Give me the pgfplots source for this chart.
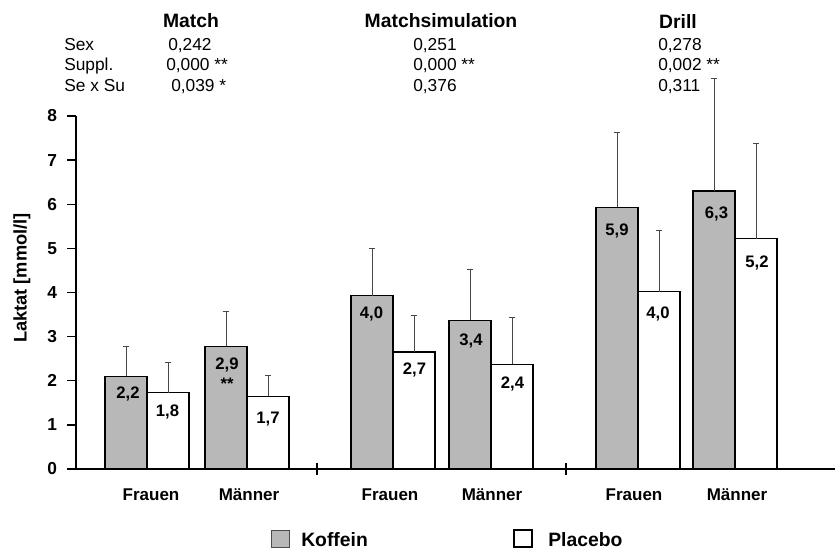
\documentclass[border=0pt]{standalone}
\usepackage{pgfplots}
\pgfplotsset{compat=1.18}
\usepackage{fontspec}
\setmainfont{Liberation Sans}
\definecolor{koff}{gray}{0.72}
\definecolor{errc}{gray}{0.28}
\begin{document}
\begin{tikzpicture}
\begin{axis}[
  at={(57pt,-351.75pt)}, anchor=south west,
  scale only axis, width=569.25pt, height=264.75pt,
  xmin=76, xmax=835, ymin=0, ymax=8,
  axis x line=bottom, axis y line=left,
  axis line style={-, line width=1.1pt, black},
  xtick=\empty, ytick={0,1,2,3,4,5,6,7,8},
  tick align=outside, major tick length=6.75pt,
  tick style={line width=1pt, black},
  yticklabel style={font=\fontsize{13}{13}\selectfont\bfseries, xshift=-4pt},
  /pgf/number format/assume math mode=true,
  ybar, bar width=42, clip=false,
]
\addplot[fill=koff, draw=black, line width=0.9pt, bar shift=0pt,
  error bars/.cd, y dir=plus, y explicit,
  error bar style={line width=0.7pt, errc},
  error mark options={rotate=90, mark size=2.6pt, line width=0.7pt, errc}]
  coordinates {
  (126,2.10) +- (0,0.68)
  (226,2.78) +- (0,0.78)
  (372,3.93) +- (0,1.06)
  (470,3.37) +- (0,1.15)
  (617,5.93) +- (0,1.70)
  (714,6.30) +- (0,2.54)
  };
\addplot[fill=white, draw=black, line width=0.9pt, bar shift=0pt,
  error bars/.cd, y dir=plus, y explicit,
  error bar style={line width=0.7pt, errc},
  error mark options={rotate=90, mark size=2.6pt, line width=0.7pt, errc}]
  coordinates {
  (168,1.73) +- (0,0.69)
  (268,1.65) +- (0,0.47)
  (414,2.65) +- (0,0.84)
  (512,2.37) +- (0,1.06)
  (659,4.02) +- (0,1.39)
  (756,5.22) +- (0,2.15)
  };
\draw[line width=1pt] (axis cs:317,-0.14) -- (axis cs:317,0.13);
\draw[line width=1pt] (axis cs:566,-0.14) -- (axis cs:566,0.13);
\end{axis}
\begin{scope}[x=0.75pt,y=-0.75pt]
  % titles
  \begin{scope}[font=\fontsize{14.5}{14.5}\selectfont\bfseries]
    \node at (191,21) {Match};
    \node at (441,21) {Matchsimulation};
    \node at (678,21) {Drill};
  \end{scope}
  % statistics
  \begin{scope}[font=\fontsize{13}{13}\selectfont, inner sep=0pt]
    \node[anchor=base west] at (64,50) {Sex};
    \node[anchor=base west] at (64,70.5) {Suppl.};
    \node[anchor=base west] at (64,91) {Se x Su};
    \node[anchor=base west] at (168,50) {0,242};
    \node[anchor=base west] at (166,70.5) {0,000 **};
    \node[anchor=base west] at (171,91) {0,039 *};
    \node[anchor=base west] at (413,50) {0,251};
    \node[anchor=base west] at (413,70.5) {0,000 **};
    \node[anchor=base west] at (413,91) {0,376};
    \node[anchor=base west] at (658,50) {0,278};
    \node[anchor=base west] at (658,70.5) {0,002 **};
    \node[anchor=base west] at (658,91) {0,311};
  \end{scope}
  % y label
  \node[rotate=90, font=\fontsize{13.7}{13.7}\selectfont\bfseries] at (22,278) {Laktat [mmol/l]};
  % value labels
  \begin{scope}[font=\fontsize{12.5}{12.5}\selectfont\bfseries]
    \node[anchor=base] at (128,398.5) {2,2};
    \node[anchor=base] at (167.5,416.5) {1,8};
    \node[anchor=base] at (227,369) {2,9};
    \node[anchor=base] at (227,389) {**};
    \node[anchor=base] at (268,423.5) {1,7};
    \node[anchor=base] at (371.5,318.5) {4,0};
    \node[anchor=base] at (414.5,374.5) {2,7};
    \node[anchor=base] at (471,345) {3,4};
    \node[anchor=base] at (512.5,388.5) {2,4};
    \node[anchor=base] at (617,235) {5,9};
    \node[anchor=base] at (658,318.5) {4,0};
    \node[anchor=base] at (716.5,218.5) {6,3};
    \node[anchor=base] at (757,267) {5,2};
  \end{scope}
  % category labels
  \begin{scope}[font=\fontsize{12.75}{12.75}\selectfont\bfseries]
    \node[anchor=base] at (151,500.5) {Frauen};
    \node[anchor=base] at (249,500.5) {Männer};
    \node[anchor=base] at (390,500.5) {Frauen};
    \node[anchor=base] at (492,500.5) {Männer};
    \node[anchor=base] at (634,500.5) {Frauen};
    \node[anchor=base] at (737,500.5) {Männer};
  \end{scope}
  % legend
  \draw[fill=koff, draw=gray!60!black, line width=0.6pt] (271,530) rectangle (289,547);
  \node[anchor=base west, inner sep=0pt, font=\fontsize{14.5}{14.5}\selectfont\bfseries] at (301,546.5) {Koffein};
  \draw[fill=white, draw=black, line width=0.8pt] (514,530) rectangle (532,547);
  \node[anchor=base west, inner sep=0pt, font=\fontsize{14.5}{14.5}\selectfont\bfseries] at (548,546.5) {Placebo};
\end{scope}
\pgfresetboundingbox
\path[use as bounding box] (0pt,0pt) rectangle (626.25pt,-413.25pt);
\end{tikzpicture}
\end{document}
